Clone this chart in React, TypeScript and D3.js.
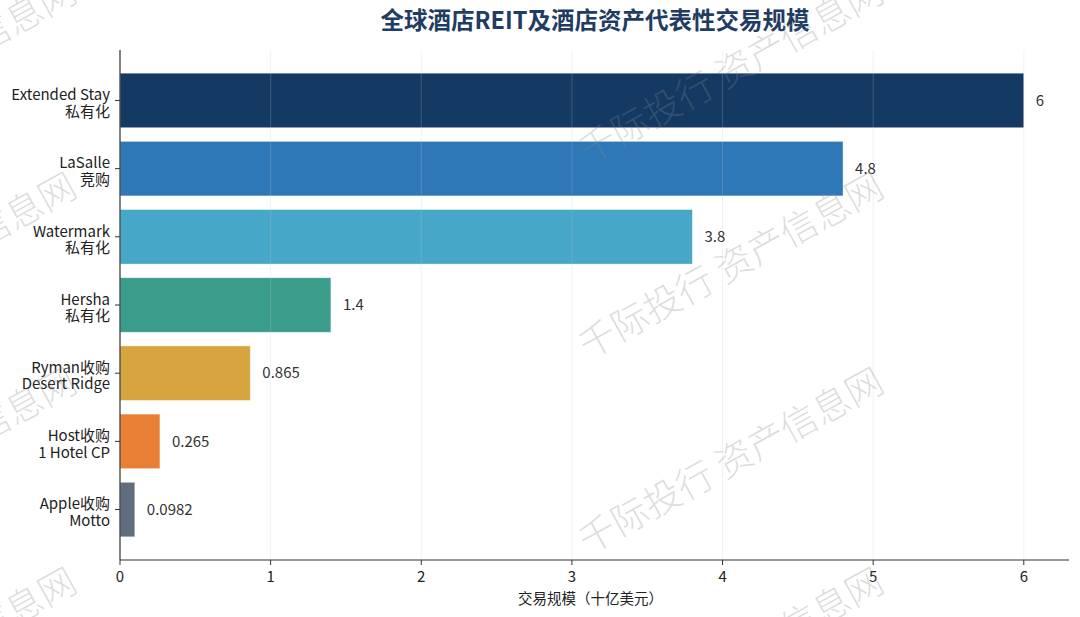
import React, { useEffect } from "react";
import * as d3 from "d3";

const categories = [
  ["Extended Stay", "私有化"],
  ["LaSalle", "竞购"],
  ["Watermark", "私有化"],
  ["Hersha", "私有化"],
  ["Ryman收购", "Desert Ridge"],
  ["Host收购", "1 Hotel CP"],
  ["Apple收购", "Motto"],
];
const values = [6, 4.8, 3.8, 1.4, 0.865, 0.265, 0.0982];
const valueLabels = ["6", "4.8", "3.8", "1.4", "0.865", "0.265", "0.0982"];
const barColors = ["#143A63", "#2E78B7", "#46A7C9", "#3A9C8B", "#D8A43F", "#E87F35", "#5E6E7E"];
const xTicks = [0, 1, 2, 3, 4, 5, 6];
const title = "全球酒店REIT及酒店资产代表性交易规模";
const xLabel = "交易规模（十亿美元）";
const watermarkText = "千际投行 资产信息网";
const watermarkX = [-219, 588];
const watermarkY = [-35, 165, 360, 555, 755];

const W = 1080;
const H = 617;
const FONT = "'Noto Sans CJK SC', 'Noto Sans', sans-serif";

export default function App() {
  useEffect(() => {
    document.body.style.margin = "0";
  }, []);

  const x = d3.scaleLinear().domain([0, 6.3]).range([120, 1069]);
  const y = d3.scaleLinear().domain([-0.74, 6.74]).range([50, 560]);
  const barH = 0.8;

  return (
    <svg
      width={W}
      height={H}
      viewBox={`0 0 ${W} ${H}`}
      style={{ position: "absolute", left: 0, top: 0, background: "#fff", fontFamily: FONT }}
    >
      <rect x={0} y={0} width={W} height={H} fill="#fff" />
      {/* bars */}
      {values.map((v, i) => (
        <rect
          key={i}
          x={x(0)}
          y={y(i - barH / 2)}
          width={x(v) - x(0)}
          height={y(i + barH / 2) - y(i - barH / 2)}
          fill={barColors[i]}
          stroke="#ffffff"
          strokeOpacity={0.5}
          strokeWidth={0.8}
        />
      ))}
      {/* gridlines */}
      {xTicks.map((t) => (
        <line
          key={t}
          x1={x(t)}
          x2={x(t)}
          y1={y(-0.74)}
          y2={y(6.74)}
          stroke="#c8c8c8"
          strokeOpacity={0.3}
          strokeWidth={0.8}
        />
      ))}
      {/* value labels */}
      {values.map((v, i) => (
        <text
          key={i}
          x={x(v) + x(0.08) - x(0)}
          y={y(i)}
          dy="0.35em"
          fontSize={15}
          fill="#333"
        >
          {valueLabels[i]}
        </text>
      ))}
      {/* spines */}
      <line x1={x(0)} x2={x(0)} y1={y(-0.74)} y2={y(6.74)} stroke="#333" strokeWidth={1.2} />
      <line x1={x(0)} x2={x(6.3)} y1={y(6.74)} y2={y(6.74)} stroke="#333" strokeWidth={1.2} />
      {/* y ticks */}
      {categories.map((c, i) => (
        <g key={i}>
          <line x1={x(0) - 5} x2={x(0)} y1={y(i)} y2={y(i)} stroke="#333" strokeWidth={1} />
          <text x={x(0) - 10} y={y(i) - 5.5} dy="0.35em" textAnchor="end" fontSize={15} fill="#222">
            {c[0]}
          </text>
          <text x={x(0) - 10} y={y(i) + 11} dy="0.35em" textAnchor="end" fontSize={15} fill="#222">
            {c[1]}
          </text>
        </g>
      ))}
      {/* x ticks */}
      {xTicks.map((t) => (
        <g key={t}>
          <line x1={x(t)} x2={x(t)} y1={560} y2={565} stroke="#333" strokeWidth={1} />
          <text x={x(t)} y={577} dy="0.35em" textAnchor="middle" fontSize={15} fill="#222">
            {t}
          </text>
        </g>
      ))}
      <text x={(x(0) + x(6.3)) / 2 - 4} y={599} dy="0.35em" textAnchor="middle" fontSize={14.5} fill="#222">
        {xLabel}
      </text>
      <text x={595} y={21} dy="0.35em" textAnchor="middle" fontSize={23.5} fontWeight="bold" fill="#1F3D63">
        {title}
      </text>
      {/* watermark */}
      {watermarkX.map((wx) =>
        watermarkY.map((wy) => (
          <text
            key={`${wx}-${wy}`}
            x={wx}
            y={wy}
            transform={`rotate(-29 ${wx} ${wy})`}
            fontSize={37}
            fontWeight={300}
            fill="#888"
            fillOpacity={0.28}
          >
            {watermarkText}
          </text>
        ))
      )}
    </svg>
  );
}
